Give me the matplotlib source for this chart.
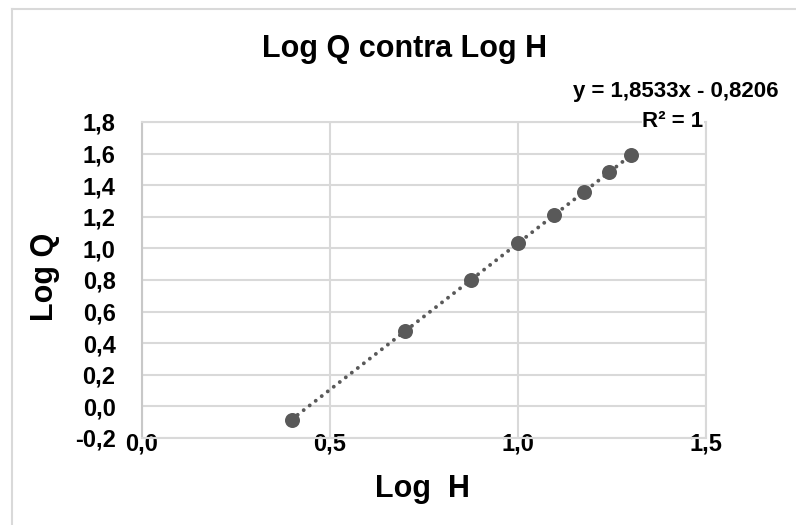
import matplotlib
matplotlib.use("Agg")
import matplotlib.pyplot as plt
from matplotlib.lines import Line2D

plt.rcParams['font.family'] = ['Liberation Sans', 'DejaVu Sans']
plt.rcParams['font.weight'] = 'bold'

# data
log_h = [0.398, 0.699, 0.875, 1.000, 1.097, 1.176, 1.243, 1.301]
log_q = [-0.083, 0.475, 0.801, 1.033, 1.212, 1.359, 1.483, 1.590]
slope = 1.8533
intercept = -0.8206

x_ticks = [0.0, 0.5, 1.0, 1.5]
x_labels = ['0,0', '0,5', '1,0', '1,5']
y_ticks = [-0.2, 0.0, 0.2, 0.4, 0.6, 0.8, 1.0, 1.2, 1.4, 1.6, 1.8]
y_labels = ['-0,2', '0,0', '0,2', '0,4', '0,6', '0,8', '1,0', '1,2', '1,4', '1,6', '1,8']

W, H = 796, 525
fig = plt.figure(figsize=(W / 100, H / 100), dpi=100)
ax = fig.add_axes([142 / W, 1 - 438 / H, 564 / W, 316 / H])

grid_c = '#D9D9D9'
dark = '#595959'

# trendline
x_fit = [min(log_h), max(log_h)]
y_fit = [slope * v + intercept for v in x_fit]
ax.plot(x_fit, y_fit, color=dark, lw=2.8, linestyle=(0, (0.01, 1.95)),
        dash_capstyle='round', zorder=2)
ax.plot(log_h, log_q, 'o', color=dark, markersize=10.8, markeredgewidth=0, zorder=3)

ax.set_xlim(0, 1.5)
ax.set_ylim(-0.2, 1.8)
ax.set_xticks(x_ticks)
ax.set_xticklabels(x_labels)
ax.set_yticks(y_ticks)
ax.set_yticklabels(y_labels)
ax.grid(True, color=grid_c, lw=1.5)
ax.set_axisbelow(True)
for s in ax.spines.values():
    s.set_color(grid_c)
    s.set_linewidth(1.5)
ax.spines['left'].set_color('#C8C8C8')
ax.tick_params(axis='both', length=0, labelsize=17)
ax.tick_params(axis='x', pad=-3.6)
ax.tick_params(axis='y', pad=19)
for lbl in ax.get_xticklabels() + ax.get_yticklabels():
    lbl.set_fontweight('bold')

fig.text(404 / W, 1 - 57 / H, 'Log Q contra Log H', ha='center', va='baseline',
         fontsize=22, fontweight='bold')
fig.text(676 / W, 1 - 97 / H, 'y = 1,8533x - 0,8206', ha='center', va='baseline',
         fontsize=16, fontweight='bold')
fig.text(673 / W, 1 - 127 / H, 'R² = 1', ha='center', va='baseline',
         fontsize=16, fontweight='bold', zorder=5,
         bbox=dict(facecolor='white', edgecolor='none', pad=0.5))
fig.text(422 / W, 1 - 497 / H, 'Log  H', ha='center', va='baseline',
         fontsize=22, fontweight='bold')
fig.text(45 / W, 1 - 277 / H, 'Log Q', ha='center', va='center', rotation=90,
         fontsize=22, fontweight='bold')

# chart area border (only left and top visible)
fig.add_artist(Line2D([11.5 / W, 11.5 / W], [0, 1 - 8.5 / H], color=grid_c, lw=1.5))
fig.add_artist(Line2D([11.5 / W, 1], [1 - 8.5 / H, 1 - 8.5 / H], color=grid_c, lw=1.5))

fig.savefig('out.png', dpi=100)
